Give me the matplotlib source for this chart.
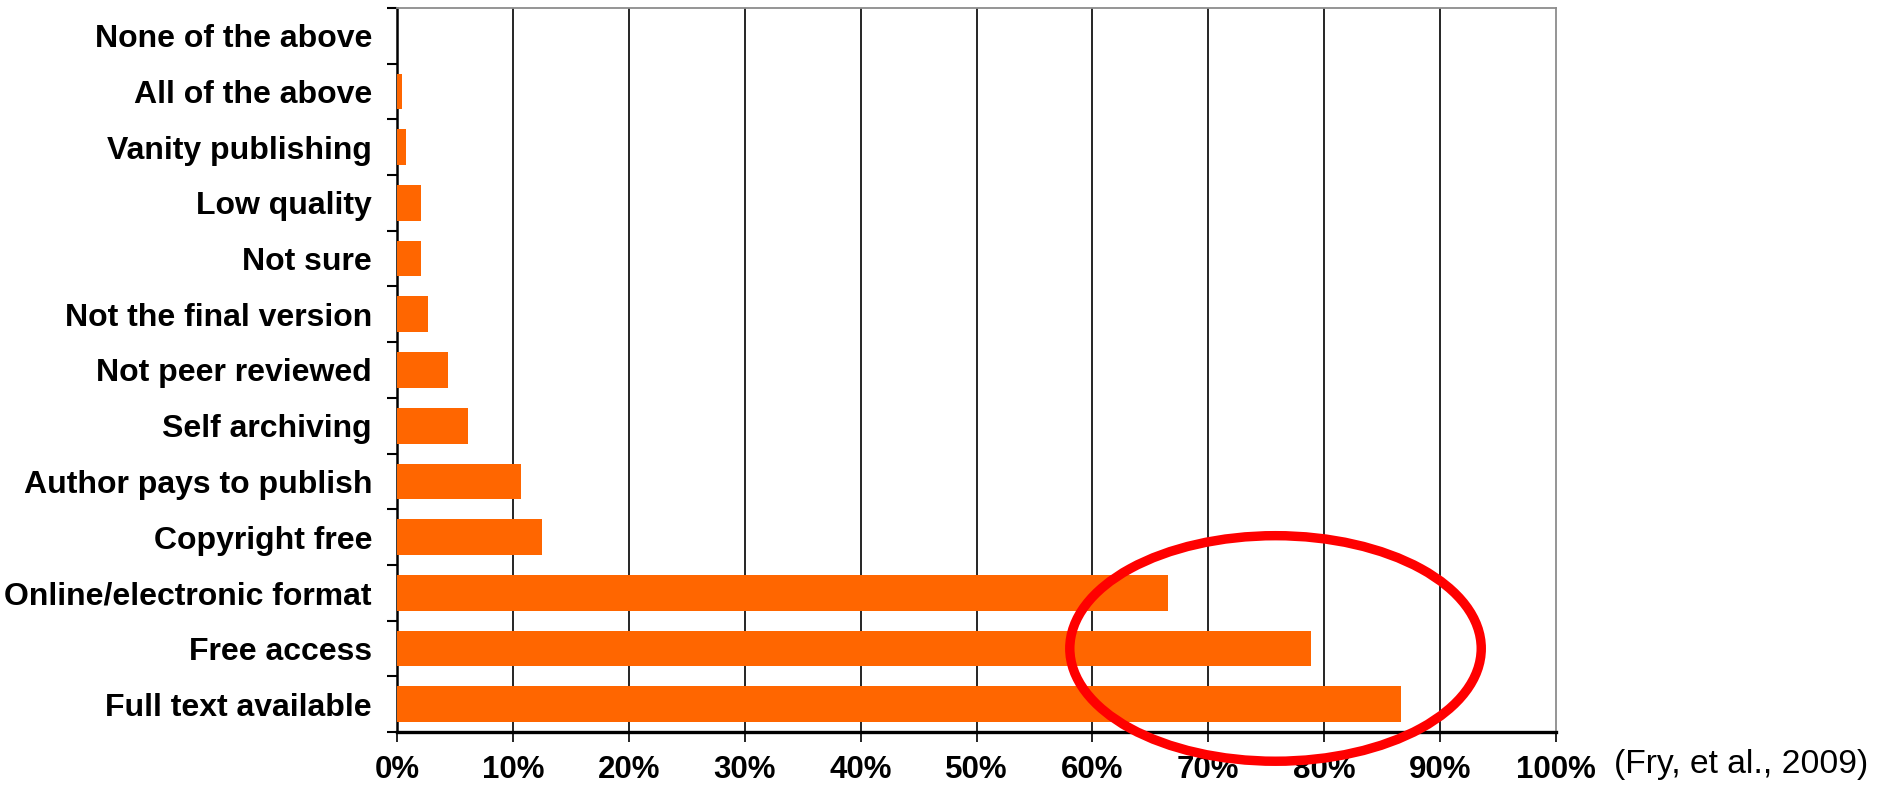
import matplotlib
matplotlib.use("Agg")
import matplotlib.pyplot as plt
from matplotlib.patches import Ellipse
import numpy as np

# Data (bottom to top)
categories = ["Full text available", "Free access", "Online/electronic format",
              "Copyright free", "Author pays to publish", "Self archiving",
              "Not peer reviewed", "Not the final version", "Not sure",
              "Low quality", "Vanity publishing", "All of the above",
              "None of the above"]
values = [86.6, 78.9, 66.5, 12.5, 10.7, 6.1, 4.4, 2.65, 2.1, 2.1, 0.75, 0.4, 0.0]
x_ticks = [0, 10, 20, 30, 40, 50, 60, 70, 80, 90, 100]
x_ticklabels = [f"{t}%" for t in x_ticks]
source_text = "(Fry, et al., 2009)"
# highlight ellipse (data coords): center x, center y, width, height
hl_center = (75.8, 1.0)
hl_width = 35.5
hl_height = 4.05

plt.rcParams['font.family'] = ['Liberation Sans', 'DejaVu Sans']

fig = plt.figure(figsize=(18.77, 7.95), dpi=100)
ax = fig.add_axes([397/1877, 1 - 732/795, (1556-397)/1877, (732-8)/795])

y = np.arange(len(categories))
ax.barh(y, values, height=0.64, color="#FF6600", zorder=3)

ax.set_xlim(0, 100)
ax.set_ylim(-0.5, len(categories) - 0.5)

# vertical gridlines
for t in x_ticks[1:-1]:
    ax.axvline(t, color="black", lw=1.2, zorder=1)

ax.set_xticks(x_ticks)
ax.set_xticklabels(x_ticklabels, fontsize=22.5, fontweight="bold")
ax.set_yticks(y)
ax.set_yticklabels(categories, fontsize=23.0, fontweight="bold")
ax.set_yticks(np.arange(-0.5, len(categories), 1.0), minor=True)
ax.tick_params(axis="y", which="major", length=0, pad=18)
ax.tick_params(axis="y", which="minor", length=7.5, width=1.5, color="black", direction="out")
ax.tick_params(axis="x", which="major", length=7.5, width=1.2, color="black", direction="out", pad=9)

for s in ["top", "right"]:
    ax.spines[s].set_color("#8c8c8c")
    ax.spines[s].set_linewidth(1.3)
ax.spines["left"].set_color("black")
ax.spines["left"].set_linewidth(1.8)
ax.spines["bottom"].set_color("black")
ax.spines["bottom"].set_linewidth(2.4)

ell = Ellipse(hl_center, hl_width, hl_height, fill=False, edgecolor="#FF0000",
              linewidth=6.8, zorder=5, clip_on=False)
ax.add_patch(ell)

fig.text(1614/1877, 1 - 764/795, source_text, fontsize=24.2, ha="left", va="center")

fig.savefig("out.png", dpi=100, facecolor="white")
